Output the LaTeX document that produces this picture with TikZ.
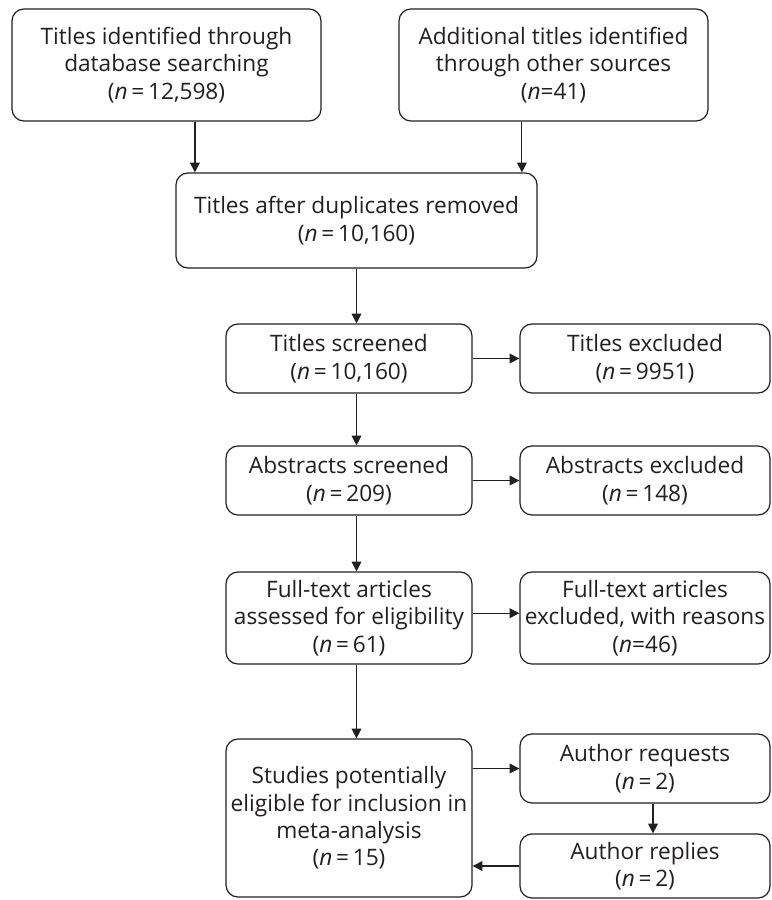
\documentclass[tikz,border=0pt]{standalone}
\usepackage{fontspec}
\setmainfont{Open Sans}
\usetikzlibrary{arrows.meta}
\definecolor{ink}{RGB}{35,31,32}

\begin{document}
\begin{tikzpicture}[
    x=0.025cm, y=-0.025cm,
    box/.style={draw=ink, line width=0.85pt, rounded corners=0.3cm, fill=white,
        align=center, inner sep=0pt, text=ink,
        font=\fontsize{16.1pt}{19.5pt}\selectfont},
    topbox/.style={box, minimum width=7.725cm, minimum height=2.8cm},
    leftbox/.style={box, minimum width=6.15cm},
    rightbox/.style={box, minimum width=6.25cm},
    arrow/.style={draw=ink, line width=0.85pt, -{Triangle[length=7pt,width=7pt]}}
]
    \useasboundingbox (0,0) rectangle (771,900);
    \node[topbox] (dbsearch) at (166.5,65) {Titles identified through\\database searching\\(\textit{n}\,=\,12,598)};
    \node[topbox] (othersrc) at (553.5,65) {Additional titles identified\\through other sources\\(\textit{n}=41)};
    \node[box, minimum width=9.025cm, minimum height=2.375cm] (dedup) at (356.5,220.5) {Titles after duplicates removed\\(\textit{n}\,=\,10,160)};
    \node[leftbox, minimum height=1.725cm] (screened) at (349,358.5) {Titles screened\\(\textit{n}\,=\,10,160)};
    \node[rightbox, minimum height=1.725cm] (titlesexcl) at (645,358.5) {Titles excluded\\(\textit{n}\,=\,9951)};
    \node[leftbox, minimum height=1.725cm] (abstracts) at (349,480.5) {Abstracts screened\\(\textit{n}\,=\,209)};
    \node[rightbox, minimum height=1.725cm] (abstractsexcl) at (645,480.5) {Abstracts excluded\\(\textit{n}\,=\,148)};
    \node[leftbox, minimum height=2.3cm] (fulltext) at (349,618) {Full-text articles\\assessed for eligibility\\(\textit{n}\,=\,61)};
    \node[rightbox, minimum height=2.3cm] (fulltextexcl) at (645,618) {Full-text articles\\excluded, with reasons\\(\textit{n}=46)};
    \node[leftbox, minimum height=3.95cm] (studies) at (349,818) {Studies potentially\\eligible for inclusion in\\meta-analysis\\(\textit{n}\,=\,15)};
    \node[rightbox, minimum height=1.725cm] (requests) at (645,768.5) {Author requests\\(\textit{n}\,=\,2)};
    \node[rightbox, minimum height=1.6cm] (replies) at (645,866) {Author replies\\(\textit{n}\,=\,2)};
    % flow down the left side
    \draw[arrow] ([xshift=0.71cm]dbsearch.south) -- ([xshift=0.71cm]dbsearch.south |- dedup.north);
    \draw[arrow] ([xshift=-0.79cm]othersrc.south) -- ([xshift=-0.79cm]othersrc.south |- dedup.north);
    \draw[arrow] (dedup.south) -- (dedup.south |- screened.north);
    \draw[arrow] (screened.south -| dedup.south) -- (abstracts.north -| dedup.south);
    \draw[arrow] (abstracts.south -| dedup.south) -- (fulltext.north -| dedup.south);
    \draw[arrow] (fulltext.south -| dedup.south) -- (studies.north -| dedup.south);
    % exclusions and author contact
    \draw[arrow] (screened) -- (titlesexcl);
    \draw[arrow] (abstracts) -- (abstractsexcl);
    \draw[arrow] ([yshift=0.12cm]fulltext.east) -- ([yshift=0.12cm]fulltextexcl.west);
    \draw[arrow] (studies.east |- requests.west) -- (requests.west);
    \draw[arrow] ([xshift=0.2cm]requests.south) -- ([xshift=0.2cm]replies.north);
    \draw[arrow] (replies.west) -- (replies.west -| studies.east);
\end{tikzpicture}
\end{document}
